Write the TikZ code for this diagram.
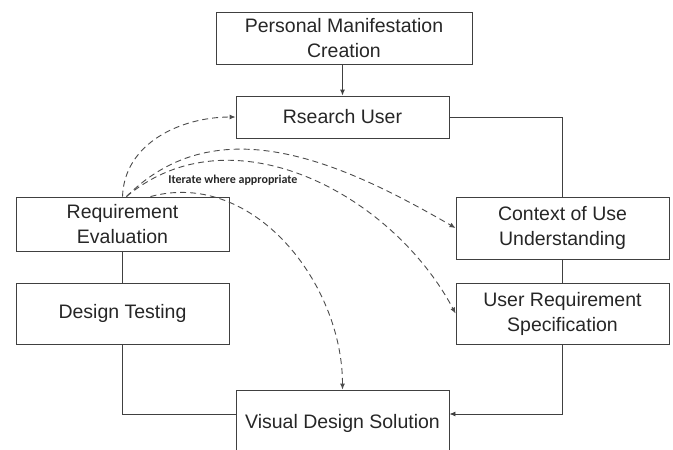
\documentclass[tikz,border=0pt]{standalone}
\usepackage{fontspec}
\setmainfont{Liberation Sans}
\newfontfamily\notefont{Carlito}
\usetikzlibrary{arrows.meta}

\begin{document}
\begin{tikzpicture}[x=1pt, y=-1pt,
		box/.style={draw=black!75, line width=0.9pt, minimum width=213pt, inner sep=0pt, align=center, text=black!85, font=\fontsize{19.5}{25}\selectfont},
		flow/.style={draw=black!75, line width=0.9pt},
		tip/.style={-{Latex[length=6pt, width=5pt]}},
		loopback/.style={draw=black!70, line width=0.9pt, dash pattern=on 6pt off 4pt, -{Latex[length=6pt, width=5pt]}}]

		\clip (0,0) rectangle (673,450);

		\node[box, minimum width=256pt, minimum height=52pt] (pmc) at (344,38) {Personal Manifestation\\Creation};
		\node[box, minimum height=42pt] (ru) at (342.5,117) {Rsearch User};
		\node[box, minimum height=54pt] (re) at (122.5,224) {Requirement\\Evaluation};
		\node[box, minimum height=61pt] (dt) at (122.5,313.5) {Design Testing};
		\node[box, minimum height=62pt] (cu) at (562.5,228) {Context of Use\\Understanding};
		\node[box, minimum height=61pt] (urs) at (562.5,313.5) {User Requirement\\Specification};
		\node[box, minimum height=66pt] (vds) at (342.5,423) {Visual Design Solution};

		\draw[flow, tip] (ru.north |- pmc.south) -- (ru.north);
		\draw[flow] (ru.east) -| (cu.north);
		\draw[flow] (cu.south) -- (urs.north);
		\draw[flow, tip] (urs.south) |- ([yshift=9pt]vds.east);
		\draw[flow] (re.south) -- (dt.north);
		\draw[flow] (dt.south) |- ([yshift=9pt]vds.west);

		\draw[loopback] (re.north) to[out=88, in=180] (ru.west);
		\draw[loopback] ([xshift=4pt]re.north) to[out=45, in=150] (cu.west);
		\draw[loopback] ([xshift=4pt]re.north) to[out=40, in=118] (urs.west);
		\draw[loopback] ([xshift=28pt]re.north) to[out=15, in=90] (vds.north);

		\node[font=\notefont\bfseries\fontsize{12}{14}\selectfont, text=black!85] (note) at (233,180) {Iterate where appropriate};
	\end{tikzpicture}
\end{document}
